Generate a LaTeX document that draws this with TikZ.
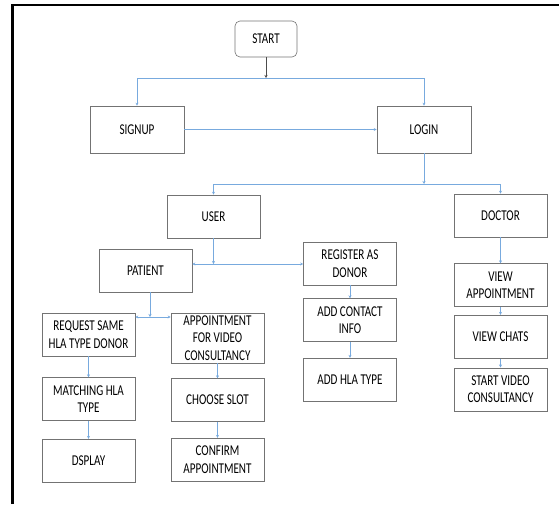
\documentclass[tikz,border=0pt]{standalone}
\usepackage{fontspec}
\setmainfont{Carlito}
\newfontfamily\boxfamily[FakeStretch=0.74]{Carlito}
\usetikzlibrary{arrows.meta, positioning, calc}
\definecolor{linkblue}{RGB}{120,170,222}
\newcommand{\boxfont}{\boxfamily\fontsize{15}{17.5}\selectfont}
\tikzset{
  box/.style={rectangle, minimum width=93pt, minimum height=43pt, inner sep=1pt,
    text centered, align=center, draw=black!55, line width=0.6pt, font=\boxfont},
  startbox/.style={box, rounded corners=5pt, minimum width=62pt, minimum height=36pt},
  arr/.style={-{Stealth[length=3pt, width=3pt]}, line width=0.7pt, draw=linkblue},
  darr/.style={-{Stealth[length=3pt, width=3pt]}, line width=0.7pt, draw=black!70},
  frameline/.style={line width=2.6pt, draw=black},
}

\begin{document}
\begin{tikzpicture}[x=1pt, y=-1pt]
  \useasboundingbox (0,0) rectangle (559,504);
  \draw[frameline] (12.5,504) -- (12.5,5) -- (559,5);

  % top part
  \node[startbox] (start) at (266,39) {START};
  \node[box, minimum width=94pt, minimum height=47pt] (signup) at (137,129.5) {SIGNUP};
  \node[box, minimum width=94pt, minimum height=47pt] (login) at (424,129.5) {LOGIN};

  % user and doctor
  \node[box] (user) at (213.5,216.5) {USER};
  \node[box] (doctor) at (500.5,215.5) {DOCTOR};
  \node[box] (patient) at (145.5,270.5) {PATIENT};
  \node[box] (register) at (350,263.5) {REGISTER AS\\DONOR};

  % patient branch
  \node[box] (request) at (88.5,334.5) {REQUEST SAME\\HLA TYPE DONOR};
  \node[box, below=21pt of request] (matching) {MATCHING HLA\\TYPE};
  \node[box, below=18pt of matching] (dsplay) {DSPLAY};
  \node[box, minimum height=50pt] (appt) at (217.5,338) {APPOINTMENT\\FOR VIDEO\\CONSULTANCY};
  \node[box, below=15pt of appt] (slot) {CHOOSE SLOT};
  \node[box, below=16pt of slot] (confirm) {CONFIRM\\APPOINTMENT};

  % donor branch
  \node[box, below=13pt of register] (contact) {ADD CONTACT\\INFO};
  \node[box, below=16pt of contact] (hla) {ADD HLA TYPE};

  % doctor branch
  \node[box, below=26pt of doctor] (viewappt) {VIEW\\APPOINTMENT};
  \node[box, below=8pt of viewappt] (chats) {VIEW CHATS};
  \node[box, below=9pt of chats] (video) {START VIDEO\\CONSULTANCY};

  % junctions
  \coordinate (j1) at (266,78);
  \coordinate (j2) at (424,184);
  \coordinate (j3) at (213.5,264);
  \coordinate (j4) at (150,317);

  \draw[darr] (start) -- (j1);
  \draw[arr] (j1) -| (signup);
  \draw[arr] (j1) -| (login);
  \draw[arr] (signup) -- (login);
  \draw[arr] (login) -- (j2);
  \draw[arr] (j2) -| (user);
  \draw[arr] (j2) -| (doctor);
  \draw[arr] (user) -- (j3);
  \draw[arr] (j3) -- (j3 -| patient.east);
  \draw[arr] (j3) -- (j3 -| register.west);
  \draw[arr] (j4 |- patient.south) -- (j4);
  \draw[arr] (j4) -- (j4 -| request.east);
  \draw[arr] (j4) -- (j4 -| appt.west);
  \draw[arr] (request) -- (matching);
  \draw[arr] (matching) -- (dsplay);
  \draw[arr] (appt) -- (slot);
  \draw[arr] (slot) -- (confirm);
  \draw[arr] (register) -- (contact);
  \draw[arr] (contact) -- (hla);
  \draw[arr] (doctor) -- (viewappt);
  \draw[arr] (viewappt) -- (chats);
  \draw[arr] (chats) -- (video);
\end{tikzpicture}
\end{document}
